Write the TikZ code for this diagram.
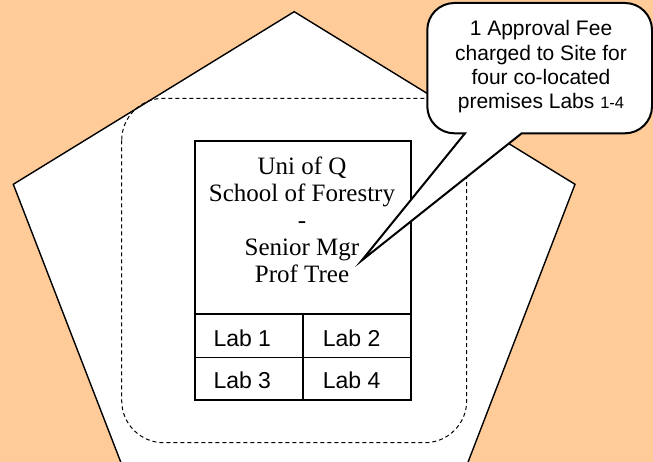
\documentclass[tikz,border=0pt]{standalone}
\usepackage{fontspec}
\setmainfont{Liberation Serif}
\newfontfamily\arialf{Liberation Sans}
\definecolor{peach}{HTML}{FFCC99}
\begin{document}
\begin{tikzpicture}[x=1pt,y=-1pt,
  outline/.style={draw=black, line width=1.4pt, fill=white, line join=miter},
  boxst/.style={draw=black, line width=1.6pt, fill=white, rectangle, inner sep=0pt},
  sitest/.style={draw=black, line width=1pt, dash pattern=on 4pt off 3pt, rounded corners=42pt},
  callst/.style={draw=black, line width=2pt, fill=white, line join=miter},
  serift/.style={font=\fontsize{25}{27}\selectfont, inner sep=0pt},
  labt/.style={font=\arialf\fontsize{23}{26}\selectfont, inner sep=0pt},
  callt/.style={font=\arialf\fontsize{21}{24}\selectfont, inner sep=0pt}]
\useasboundingbox (0,0) rectangle (653,462);
\fill[peach] (0,0) rectangle (653,462);
\begin{scope}
\clip (0,0) rectangle (653,462);
% pentagon
\coordinate (pT) at (294.2,11.7);
\coordinate (pL) at (13.3,184.3);
\coordinate (pR) at (575,184.3);
\coordinate (pBL) at (121.3,463.5);
\coordinate (pBR) at (467.5,463.5);
\draw[outline] (pT) -- (pR) -- (pBR) -- (pBL) -- (pL) -- cycle;
% dashed site boundary
\draw[sitest] (121.7,98.3) rectangle (466.7,442.7);
% main unit box
\node[boxst, minimum width=216pt, minimum height=173pt] (unit) at (303,227.5) {};
\node[boxst, minimum width=108pt, minimum height=43.3pt] (c1) at (249,335.65) {};
\node[boxst, minimum width=108pt, minimum height=43.3pt] (c2) at (357,335.65) {};
\node[boxst, minimum width=108pt, minimum height=42.7pt] (c3) at (249,378.65) {};
\node[boxst, minimum width=108pt, minimum height=42.7pt] (c4) at (357,378.65) {};
% unit text
\node[serift, anchor=base] (u1) at (302,175) {Uni of Q};
\node[serift, anchor=base] (u2) at (302,202) {School of Forestry};
\node[serift, anchor=base] (u3) at (302,229) {-};
\node[serift, anchor=base] (u4) at (302,256) {Senior Mgr};
\node[serift, anchor=base] (u5) at (302,283) {Prof Tree};
% lab labels
\node[labt, anchor=base west] (l1) at (213.3,346) {Lab 1};
\node[labt, anchor=base west] (l2) at (322.7,346) {Lab 2};
\node[labt, anchor=base west] (l3) at (213.3,388.3) {Lab 3};
\node[labt, anchor=base west] (l4) at (322.7,388.3) {Lab 4};
% callout
\coordinate (tip) at (361.7,260.5);
\draw[callst] (465,133.3) -- (tip) -- (521.7,133.3) -- (625,133.3)
  .. controls (639.9,133.3) and (652,121.2) .. (652,106.3) -- (652,30)
  .. controls (652,15.1) and (639.9,3) .. (625,3) -- (454.3,3)
  .. controls (439.4,3) and (427.3,15.1) .. (427.3,30) -- (427.3,106.3)
  .. controls (427.3,121.2) and (439.4,133.3) .. (454.3,133.3) -- cycle;
\node[callt, anchor=base] (k1) at (541,36) {1 Approval Fee};
\node[callt, anchor=base] (k2) at (541,60.3) {charged to Site for};
\node[callt, anchor=base] (k3) at (541,84.5) {four co-located};
\node[callt, anchor=base] (k4) at (541,108.7) {premises Labs {\fontsize{16.5}{18}\selectfont 1-4}};
\end{scope}
\end{tikzpicture}
\end{document}
